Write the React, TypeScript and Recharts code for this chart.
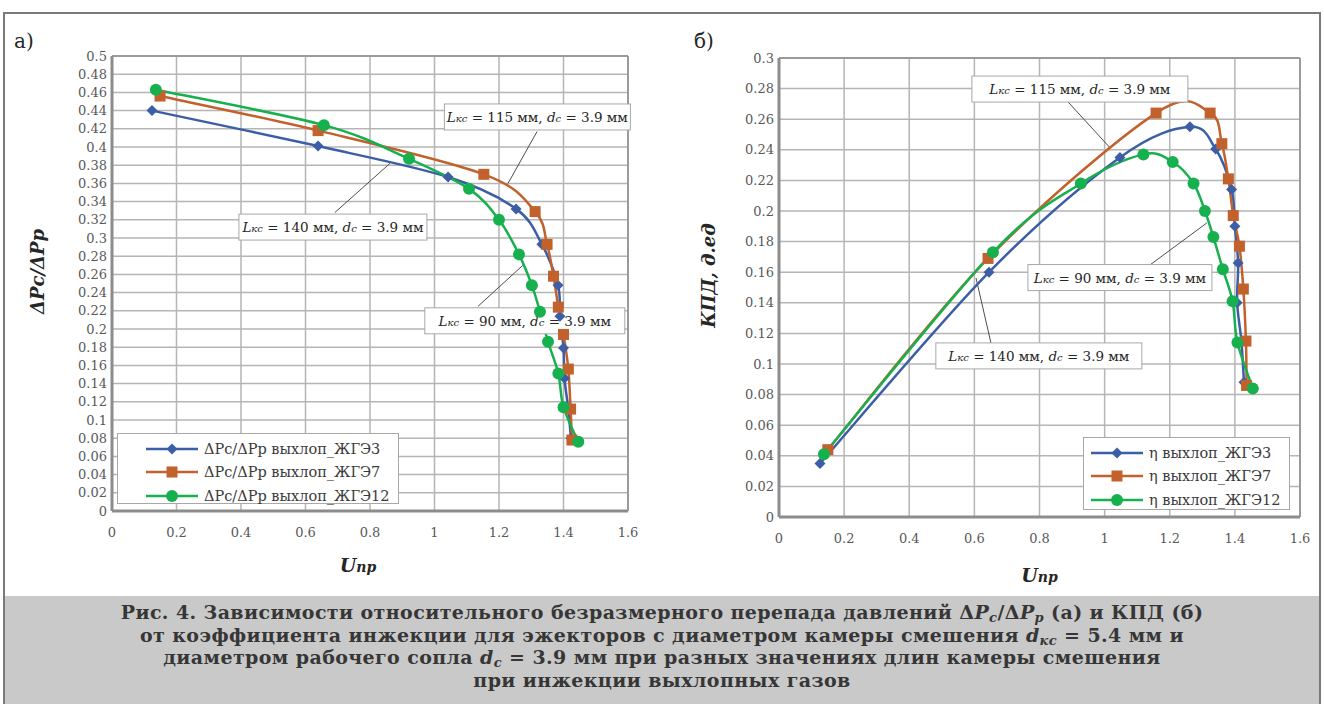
import React from 'react';
import {
  LineChart, Line, XAxis, YAxis, CartesianGrid, ReferenceLine, ReferenceDot, Legend,
} from 'recharts';

// ---- values ----
const uTicks = [0, 0.2, 0.4, 0.6, 0.8, 1, 1.2, 1.4, 1.6];
const dpTicks = [
  0, 0.02, 0.04, 0.06, 0.08, 0.1, 0.12, 0.14, 0.16, 0.18, 0.2, 0.22, 0.24,
  0.26, 0.28, 0.3, 0.32, 0.34, 0.36, 0.38, 0.4, 0.42, 0.44, 0.46, 0.48, 0.5,
];
const etaTicks = [
  0, 0.02, 0.04, 0.06, 0.08, 0.1, 0.12, 0.14, 0.16, 0.18, 0.2, 0.22, 0.24, 0.26, 0.28, 0.3,
];

const dpNames = ['ΔPc/ΔPp выхлоп_ЖГЭ3', 'ΔPc/ΔPp выхлоп_ЖГЭ7', 'ΔPc/ΔPp выхлоп_ЖГЭ12'];
const etaNames = ['η выхлоп_ЖГЭ3', 'η выхлоп_ЖГЭ7', 'η выхлоп_ЖГЭ12'];

// (а) ΔPc/ΔPp vs Uпр
const uA3 = [0.124, 0.639, 1.042, 1.253, 1.333, 1.383, 1.389, 1.4, 1.403, 1.415, 1.423];
const dpA3 = [0.44, 0.401, 0.367, 0.332, 0.293, 0.248, 0.214, 0.179, 0.146, 0.112, 0.08];
const uA7 = [0.149, 0.639, 1.153, 1.312, 1.349, 1.369, 1.384, 1.4, 1.415, 1.422, 1.426];
const dpA7 = [0.456, 0.418, 0.37, 0.329, 0.293, 0.258, 0.224, 0.194, 0.156, 0.112, 0.078];
const uA12 = [0.136, 0.657, 0.921, 1.107, 1.2, 1.262, 1.302, 1.327, 1.352, 1.384, 1.4, 1.446];
const dpA12 = [0.463, 0.424, 0.387, 0.354, 0.32, 0.282, 0.248, 0.219, 0.186, 0.151, 0.114, 0.076];

// (б) КПД vs Uпр
const uB3 = [0.126, 0.645, 1.047, 1.262, 1.341, 1.39, 1.4, 1.41, 1.407, 1.42, 1.428];
const etaB3 = [0.035, 0.16, 0.235, 0.255, 0.2405, 0.214, 0.19, 0.166, 0.14, 0.115, 0.088];
const uB7 = [0.15, 0.642, 1.158, 1.324, 1.36, 1.38, 1.395, 1.414, 1.426, 1.434, 1.436];
const etaB7 = [0.044, 0.169, 0.264, 0.264, 0.244, 0.221, 0.197, 0.177, 0.149, 0.115, 0.086];
const uB12 = [0.138, 0.657, 0.927, 1.119, 1.209, 1.273, 1.308, 1.334, 1.363, 1.393, 1.408, 1.455];
const etaB12 = [0.041, 0.173, 0.218, 0.237, 0.232, 0.218, 0.2, 0.183, 0.162, 0.141, 0.114, 0.084];

const zip = (xs: number[], ys: number[]) => xs.map((x, i) => ({ x, y: ys[i] }));

const FONT = '"DejaVu Serif", "Liberation Serif", serif';
const COLORS = ['#3b5ea6', '#c2612c', '#17b04f'];
const MARKERS = ['diamond', 'square', 'circle'];

// Excel-like smoothed line (Catmull-Rom through the points)
function excelSmooth(context: any) {
  let pts: number[][] = [];
  return {
    areaStart() {},
    areaEnd() {},
    lineStart() { pts = []; },
    point(x: number, y: number) { pts.push([+x, +y]); },
    lineEnd() {
      const n = pts.length;
      if (!n) return;
      context.moveTo(pts[0][0], pts[0][1]);
      for (let i = 0; i < n - 1; i++) {
        const p0 = pts[i - 1] || pts[i];
        const p1 = pts[i];
        const p2 = pts[i + 1];
        const p3 = pts[i + 2] || p2;
        context.bezierCurveTo(
          p1[0] + (p2[0] - p0[0]) / 6, p1[1] + (p2[1] - p0[1]) / 6,
          p2[0] - (p3[0] - p1[0]) / 6, p2[1] - (p3[1] - p1[1]) / 6,
          p2[0], p2[1],
        );
      }
    },
  };
}

function Marker({ kind, cx, cy, color }: { kind: string; cx: number; cy: number; color: string }) {
  if (kind === 'diamond') {
    const s = 5.5;
    return <path d={`M${cx},${cy - s}L${cx + s},${cy}L${cx},${cy + s}L${cx - s},${cy}Z`} fill={color} />;
  }
  if (kind === 'square') {
    return <rect x={cx - 5.5} y={cy - 5.5} width={11} height={11} fill={color} />;
  }
  return <circle cx={cx} cy={cy} r={6} fill={color} />;
}

function AnnBox({ cx, cy, w, num }: { cx: number; cy: number; w: number; num: string }) {
  const h = 26;
  return (
    <g>
      <rect x={cx - w / 2} y={cy - h / 2} width={w} height={h} fill="#fff" stroke="#a8a8a8" strokeWidth={1} />
      <text x={cx} y={cy + 5} textAnchor="middle" fontFamily={FONT} fontSize={13.5} fill="#262626">
        <tspan fontStyle="italic">L</tspan>
        <tspan fontStyle="italic" fontSize={10}>кс</tspan>
        <tspan>{` = ${num} мм, `}</tspan>
        <tspan fontStyle="italic">d</tspan>
        <tspan fontStyle="italic" fontSize={10}>c</tspan>
        <tspan> = 3.9 мм</tspan>
      </text>
    </g>
  );
}

const fmt = (v: number) => String(parseFloat(v.toFixed(2)));

type Ann = { num: string; box: [number, number]; w: number; from: [number, number]; to: [number, number] };

const annA: Ann[] = [
  { num: '115', box: [1.319, 0.433], w: 186, from: [1.318, 0.417], to: [1.228, 0.36] },
  { num: '140', box: [0.685, 0.312], w: 188, from: [0.691, 0.328], to: [0.862, 0.382] },
  { num: '90', box: [1.28, 0.209], w: 200, from: [1.135, 0.225], to: [1.274, 0.27] },
];
const annB: Ann[] = [
  { num: '115', box: [0.924, 0.2797], w: 216, from: [0.885, 0.2719], to: [1.017, 0.2412] },
  { num: '90', box: [1.047, 0.1565], w: 184, from: [1.139, 0.1647], to: [1.314, 0.1922] },
  { num: '140', box: [0.798, 0.1053], w: 206, from: [0.651, 0.1137], to: [0.605, 0.1562] },
];

function LegendBox({ names, textLeft, lineW }: { names: string[]; textLeft: number; lineW: number }) {
  return (
    <div style={{
      border: '1px solid #a8a8a8', background: '#fff', boxSizing: 'border-box',
      width: '100%', height: '100%', padding: '3px 0 0 6px',
    }}>
      {names.map((n, i) => (
        <div key={n} style={{ display: 'flex', alignItems: 'center', height: 23.5 }}>
          <svg width={textLeft} height={16} style={{ flex: 'none' }}>
            <line x1={textLeft - lineW - 6} y1={8} x2={textLeft - 6} y2={8} stroke={COLORS[i]} strokeWidth={2.5} />
            <Marker kind={MARKERS[i]} cx={textLeft - 6 - lineW / 2} cy={8} color={COLORS[i]} />
          </svg>
          <span style={{ fontFamily: FONT, fontSize: 14.5, color: '#3a3a3a', whiteSpace: 'nowrap' }}>{n}</span>
        </div>
      ))}
    </div>
  );
}

type PanelProps = {
  left: number; width: number;
  plotTop: number; plotBottom: number; plotLeft: number; plotRight: number;
  yTicks: number[]; yMax: number;
  yTitle: string; xTitleDx: number; xTitleDy: number;
  series: { x: number; y: number }[][]; names: string[];
  anns: Ann[];
  legend: { left: number; top: number; width: number; height: number; textLeft: number; lineW: number };
  tag: string; tagLeft: number;
};

const H = 590;

function Panel(p: PanelProps) {
  const xAxisH = 30;
  const yAxisW = p.plotLeft - p.left;
  const margin = { top: p.plotTop, right: p.left + p.width - p.plotRight, bottom: H - p.plotBottom - xAxisH, left: 0 };
  const tick = { fontFamily: FONT, fontSize: 13, fill: '#595959' };
  const plotCx = (p.plotLeft + p.plotRight) / 2 - p.left;
  const plotCy = (p.plotTop + p.plotBottom) / 2;
  return (
    <div style={{ position: 'absolute', left: p.left, top: 0, width: p.width, height: H }}>
      <div style={{ position: 'absolute', left: p.tagLeft, top: 29, fontFamily: FONT, fontSize: 20, color: '#262626' }}>{p.tag}</div>
      <LineChart width={p.width} height={H} margin={margin}>
        <CartesianGrid stroke="#b5b5b5" strokeWidth={1.5} horizontalValues={p.yTicks} verticalValues={uTicks} />
        <XAxis
          type="number" dataKey="x" domain={[0, 1.6]} ticks={uTicks} interval={0}
          tickFormatter={fmt} tick={tick} tickLine={false} tickSize={0} tickMargin={17}
          axisLine={{ stroke: '#8c8c8c', strokeWidth: 3 }} height={xAxisH} allowDataOverflow
        />
        <YAxis
          type="number" dataKey="y" domain={[0, p.yMax]} ticks={p.yTicks} interval={0}
          tickFormatter={fmt} tick={tick} tickLine={false} tickSize={0} tickMargin={5}
          axisLine={{ stroke: '#8c8c8c', strokeWidth: 3 }} width={yAxisW} allowDataOverflow
        />
        <ReferenceLine x={1.6} stroke="#9a9a9a" strokeWidth={2} />
        <ReferenceLine y={p.yMax} stroke="#9a9a9a" strokeWidth={2} />
        {p.anns.map((a) => (
          <ReferenceLine
            key={'l' + a.num}
            segment={[{ x: a.from[0], y: a.from[1] }, { x: a.to[0], y: a.to[1] }]}
            stroke="#4d4d4d" strokeWidth={1}
          />
        ))}
        {p.series.map((d, i) => (
          <Line
            key={p.names[i]}
            data={d}
            dataKey="y"
            name={p.names[i]}
            type={excelSmooth as any}
            stroke={COLORS[i]}
            strokeWidth={2.5}
            isAnimationActive={false}
            dot={(dp: any) => <Marker key={i + '-' + dp.index} kind={MARKERS[i]} cx={dp.cx} cy={dp.cy} color={COLORS[i]} />}
            activeDot={false}
          />
        ))}
        {p.anns.map((a) => (
          <ReferenceDot
            key={'b' + a.num}
            x={a.box[0]} y={a.box[1]} r={1}
            ifOverflow="visible"
            shape={(sp: any) => <AnnBox cx={sp.cx} cy={sp.cy} w={a.w} num={a.num} />}
          />
        ))}
        <Legend
          layout="vertical" align="center" verticalAlign="middle"
          wrapperStyle={{
            position: 'absolute', left: p.legend.left, top: p.legend.top,
            width: p.legend.width, height: p.legend.height, right: 'auto', bottom: 'auto',
          }}
          content={() => <LegendBox names={p.names} textLeft={p.legend.textLeft} lineW={p.legend.lineW} />}
        />
      </LineChart>
      <div style={{
        position: 'absolute', left: 38 - 12, top: plotCy - 12 - 12, width: 24, height: 24,
        display: 'flex', alignItems: 'center', justifyContent: 'center',
      }}>
        <div style={{
          transform: 'rotate(-90deg)', whiteSpace: 'nowrap', fontFamily: FONT, fontWeight: 'bold',
          fontStyle: 'italic', fontSize: 18, color: '#262626',
        }}>{p.yTitle}</div>
      </div>
      <div style={{
        position: 'absolute', left: plotCx + p.xTitleDx - 40, width: 80, top: p.plotBottom + p.xTitleDy,
        textAlign: 'center', fontFamily: FONT, fontWeight: 'bold', fontStyle: 'italic', color: '#262626',
      }}>
        <span style={{ fontSize: 19 }}>U</span><span style={{ fontSize: 14 }}>пр</span>
      </div>
    </div>
  );
}

const sub: React.CSSProperties = { fontSize: 13, position: 'relative', top: 3, lineHeight: 0 };
const capLine: React.CSSProperties = { height: 22.5, lineHeight: '22.5px', whiteSpace: 'nowrap' };

export default function App() {
  return (
    <div style={{ position: 'absolute', left: 0, top: 0, width: 1324, height: 704, background: '#fff', overflow: 'hidden' }}>
      <div style={{
        position: 'absolute', left: 3, top: 12, width: 1318, height: 720,
        border: '2px solid #7a7a7a', boxSizing: 'border-box',
      }} />
      <Panel
        left={0} width={660} plotTop={56} plotBottom={511} plotLeft={112} plotRight={628}
        yTicks={dpTicks} yMax={0.5} yTitle="ΔPc/ΔPp" xTitleDx={-12} xTitleDy={43}
        series={[zip(uA3, dpA3), zip(uA7, dpA7), zip(uA12, dpA12)]} names={dpNames}
        anns={annA} tag="а)" tagLeft={14}
        legend={{ left: 117, top: 433, width: 282, height: 71, textLeft: 80, lineW: 52 }}
      />
      <Panel
        left={670} width={650} plotTop={58} plotBottom={517} plotLeft={779} plotRight={1300}
        yTicks={etaTicks} yMax={0.3} yTitle="КПД, д.ед" xTitleDx={0} xTitleDy={47}
        series={[zip(uB3, etaB3), zip(uB7, etaB7), zip(uB12, etaB12)]} names={etaNames}
        anns={annB} tag="б)" tagLeft={24}
        legend={{ left: 413, top: 437, width: 207, height: 73, textLeft: 59, lineW: 52 }}
      />
      <div style={{
        position: 'absolute', left: 5, top: 596, width: 1314, height: 108, background: '#c9c9c9',
        fontFamily: FONT, fontWeight: 'bold', fontSize: 19, letterSpacing: 0.4, color: '#363636', textAlign: 'center',
        paddingTop: 5, boxSizing: 'border-box',
      }}>
        <div style={capLine}>Рис. 4. Зависимости относительного безразмерного перепада давлений Δ<i>P</i><i style={sub}>c</i>/Δ<i>P</i><i style={sub}>p</i> (а) и КПД (б)</div>
        <div style={capLine}>от коэффициента инжекции для эжекторов с диаметром камеры смешения <i>d</i><i style={sub}>кс</i> = 5.4 мм и</div>
        <div style={capLine}>диаметром рабочего сопла <i>d</i><i style={sub}>c</i> = 3.9 мм при разных значениях длин камеры смешения</div>
        <div style={capLine}>при инжекции выхлопных газов</div>
      </div>
    </div>
  );
}
